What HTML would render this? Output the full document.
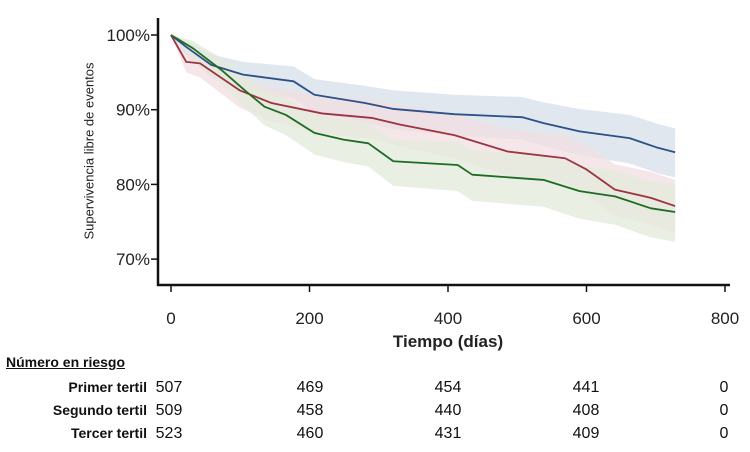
<!DOCTYPE html>
<html><head><meta charset="utf-8"><style>
body{margin:0;background:#fff;width:750px;height:447px;overflow:hidden;font-family:"Liberation Sans",sans-serif}
svg text{font-family:"Liberation Sans",sans-serif}
</style></head><body>
<svg id="c" width="750" height="447"></svg>
<script>
const days = {
 blue:[0,22,58,104,177,207,280,321,409,507,538,590,662,703,728],
 red:[0,22,42,99,145,218,290,331,409,486,569,600,641,693,728],
 green:[0,32,73,109,135,166,207,249,285,321,414,435,538,590,641,693,728]
};
const blueSurv=[100,98.4,96,94.7,93.8,92,90.9,90.1,89.4,89,88.2,87.1,86.2,84.9,84.3];
const redSurv=[100,96.4,96.2,92.6,90.9,89.5,88.9,88,86.6,84.4,83.5,82,79.3,78.2,77.1];
const greenSurv=[100,98.2,95.3,92.4,90.4,89.3,86.9,86,85.5,83.1,82.6,81.3,80.6,79.1,78.4,76.8,76.3];
const blueLo=[100,97.2,94.3,92.7,91.5,89.6,88.3,87.4,86.5,86,85.1,83.9,82.8,81.5,80.9];
const blueHi=[100,99.3,97.4,96.4,95.8,94.1,93.2,92.6,92,91.7,91,90.1,89.3,88.1,87.5];
const redLo=[100,95,94.3,90.3,88.4,86.8,86.1,85.1,83.5,81.2,80.2,78.6,75.8,74.6,73.5];
const redHi=[100,97.6,97.6,94.4,93,91.8,91.4,90.6,89.4,87.4,86.6,85.2,82.7,81.7,80.6];
const greenLo=[100,96.9,93.4,90.1,87.9,86.6,84,83,82.4,79.8,79.1,77.8,77,75.4,74.6,72.9,72.3];
const greenHi=[100,99.2,96.9,94.4,92.6,91.6,89.4,88.6,88.2,86,85.7,84.5,83.9,82.5,81.9,80.4,80];
const xTicks=[0,200,400,600,800];
const yTicks=[70,80,90,100];
const riskLabels=["Primer tertil","Segundo tertil","Tercer tertil"];
const riskPrimer=[507,469,454,441,0];
const riskSegundo=[509,458,440,408,0];
const riskTercer=[523,460,431,409,0];

const NS="http://www.w3.org/2000/svg";
const svg=document.getElementById('c');
const X=d=>171+d*0.6925;
const Y=p=>35+(100-p)*7.47;
function el(t,a,p){const e=document.createElementNS(NS,t);for(const k in a)e.setAttribute(k,a[k]);(p||svg).appendChild(e);return e;}
function pts(ds,vs){return ds.map((d,i)=>[X(d),Y(vs[i])]);}
const series=[
 {n:'blue',d:days.blue,s:blueSurv,lo:blueLo,hi:blueHi,c:'#2b5188',f:'#d7dfea'},
 {n:'red',d:days.red,s:redSurv,lo:redLo,hi:redHi,c:'#9c3442',f:'#f2dfe1'},
 {n:'green',d:days.green,s:greenSurv,lo:greenLo,hi:greenHi,c:'#1e6c22',f:'#e3eadb'}];
series.forEach(o=>{
 const up=pts(o.d,o.hi), lo=pts(o.d,o.lo).reverse();
 const b=el('polygon',{points:up.concat(lo).map(p=>p.join(',')).join(' '),fill:o.f,'fill-opacity':0.75});
 
 
});
series.forEach(o=>{
 const l=el('polyline',{points:pts(o.d,o.s).map(p=>p.join(',')).join(' '),fill:'none',stroke:o.c,'stroke-width':1.8,'stroke-linejoin':'round'});
 
 
});
const ax=el('path',{d:'M158,18 V285 H730',fill:'none',stroke:'#111','stroke-width':2.5});


xTicks.forEach(t=>{
 el('line',{x1:X(t),x2:X(t),y1:285,y2:292,stroke:'#111','stroke-width':1.5});
 const tx=el('text',{x:X(t),y:324,'text-anchor':'middle','font-size':17,fill:'#222'});tx.textContent=t;
 
 
});
yTicks.forEach(t=>{
 el('line',{x1:151,x2:158,y1:Y(t),y2:Y(t),stroke:'#111','stroke-width':1.5});
 const tx=el('text',{x:150,y:Y(t)+6,'text-anchor':'end','font-size':17,fill:'#222'});
 tx.textContent=t+'%';
 
 
});
</script>
<div style="position:absolute;left:0;top:0;width:750px;height:447px;pointer-events:none">
<div style="position:absolute;left:89px;top:151px;transform:translate(-50%,-50%) rotate(-90deg);font-size:13px;white-space:nowrap;color:#222">Supervivencia libre de eventos</div>
<div style="position:absolute;left:448px;top:332px;transform:translateX(-50%);font-size:17px;font-weight:bold;color:#222">Tiempo (días)</div>
<div style="position:absolute;left:6px;top:354px;font-size:14px;font-weight:bold;text-decoration:underline;color:#111">Número en riesgo</div>
</div>
<script>
const rows=[riskPrimer,riskSegundo,riskTercer];
const cols=[169,310,448,586,724];
rows.forEach((r,i)=>{
 const y=392+i*23;
 const lb=el('text',{x:147,y:y,'text-anchor':'end','font-size':14,'font-weight':'bold',fill:'#111'});
 lb.textContent=riskLabels[i];
 
 
 r.forEach((v,j)=>{
  const t=el('text',{x:cols[j],y:y,'text-anchor':'middle','font-size':16,fill:'#111'});
  t.textContent=v;
  
  
 });
});
</script>
</body></html>
